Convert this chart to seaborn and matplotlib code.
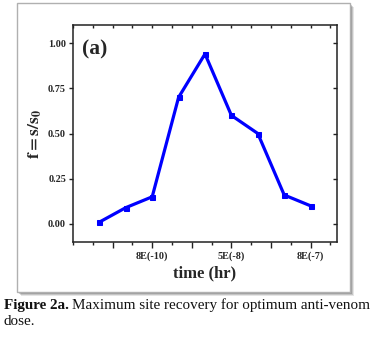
import numpy as np
import pandas as pd
import matplotlib
matplotlib.use("Agg")
import matplotlib.pyplot as plt
from matplotlib.patches import Rectangle
from matplotlib.ticker import FixedLocator
import seaborn as sns

# Dose-time steps (log-spaced sampling) and recovered fraction f = s/s0
step = [0, 1, 2, 3, 4, 5, 6, 7, 8]
recovery = [0.01, 0.09, 0.15, 0.70, 0.94, 0.60, 0.50, 0.16, 0.10]
label_steps = [2, 5, 8]
time_labels = ["8E(-10)", "5E(-8)", "8E(-7)"]
y_ticks = [0.00, 0.25, 0.50, 0.75, 1.00]

df = pd.DataFrame({"step": step, "f": recovery})

sns.set_style("ticks")
plt.rcParams["font.family"] = ["Liberation Serif", "DejaVu Serif"]
plt.rcParams["mathtext.fontset"] = "stix"

fig = plt.figure(figsize=(3.71, 3.37), dpi=100)

# framed panel with a soft drop shadow
bx, by, bw, bh = 17 / 371, 1 - 292 / 337, 333 / 371, 289 / 337
for i, a in enumerate([0.10, 0.14, 0.18, 0.22]):
    off = (4 - i) / 371
    offy = (4 - i) / 337
    fig.patches.append(Rectangle((bx + off, by - offy), bw, bh, transform=fig.transFigure,
                                 facecolor=(0, 0, 0, a), edgecolor="none", zorder=-3))
fig.patches.append(Rectangle((bx, by), bw, bh, transform=fig.transFigure,
                             facecolor="white", edgecolor="#b0b0b0", linewidth=1.0, zorder=-2))

ax = fig.add_axes([73 / 371, 1 - 242 / 337, 264 / 371, 217 / 337])
ax.set_zorder(2)
ax.set_facecolor("none")
sns.lineplot(data=df, x="step", y="f", ax=ax, color="#0000ff", linewidth=2.3,
             marker="s", markersize=3.6, markeredgecolor="#0000ff")

ax.set_xlim(-1, 9)
ax.set_ylim(-0.1, 1.1)

# bottom axis: major ticks every 1.5 steps, labelled at three doses, minor in between
major = [0.5, 2, 3.5, 5, 6.5, 8]
ax.xaxis.set_major_locator(FixedLocator(major))
ax.set_xticklabels(["" if m not in label_steps else time_labels[label_steps.index(m)] for m in major])
ax.xaxis.set_minor_locator(FixedLocator([-1 + 0.75 * k for k in range(14) if (-1 + 0.75 * k) not in major]))
ax.set_yticks(y_ticks)
ax.set_yticklabels([f"{v:.2f}" for v in y_ticks])

for lab in ax.get_xticklabels() + ax.get_yticklabels():
    lab.set_fontweight("bold")
    lab.set_fontsize(7.3)

ax.tick_params(axis="x", which="major", direction="out", length=4, width=1, pad=3, color="#222222")
ax.tick_params(axis="x", which="minor", direction="out", length=2.5, width=1, color="#222222")
ax.tick_params(axis="y", which="major", direction="out", length=3, width=1, pad=2, color="#222222")

for s in ax.spines.values():
    s.set_visible(True)
    s.set_linewidth(1.1)
    s.set_color("#222222")

# inward ticks along the top and right edges
top = ax.secondary_xaxis("top")
top.xaxis.set_major_locator(FixedLocator([-1 + 0.75 * k for k in range(14)]))
top.tick_params(direction="in", length=2.5, width=1, labeltop=False, color="#222222")
top.spines["top"].set_visible(False)
right = ax.secondary_yaxis("right")
right.set_yticks(y_ticks)
right.tick_params(direction="in", length=3, width=1, labelright=False, color="#222222")
right.spines["right"].set_visible(False)

ax.set_xlabel("time (hr)", fontsize=12, fontweight="bold", labelpad=3)
ax.set_ylabel(r"$\mathbf{f = s/s_0}$", fontsize=12.5, labelpad=3)
ax.text(0.034, 0.885, "(a)", transform=ax.transAxes, fontsize=15.5, fontweight="bold",
        va="center", ha="left")

# caption below the panel
cap1 = fig.text(4 / 371, 1 - 309 / 337, "Figure 2a.", fontsize=10.9, fontweight="bold",
                va="baseline", ha="left", color="#111111")
fig.canvas.draw()
ext = cap1.get_window_extent()
fig.text((ext.x1 + 3) / fig.bbox.width, 1 - 309 / 337,
         "Maximum site recovery for optimum anti-venom", fontsize=10.9,
         va="baseline", ha="left", color="#111111")
fig.text(4 / 371, 1 - 325 / 337, "dose.", fontsize=10.9, va="baseline", ha="left", color="#111111")

fig.savefig("out.png", dpi=100)
